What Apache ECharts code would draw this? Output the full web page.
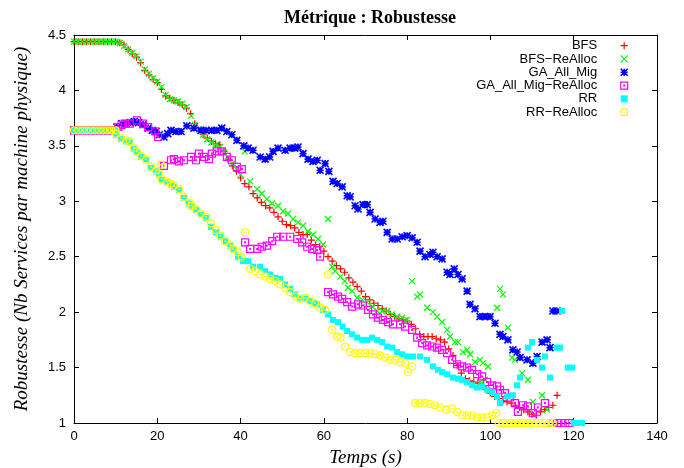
<!DOCTYPE html>
<html>
<head>
<meta charset="utf-8">
<script src="https://cdn.jsdelivr.net/npm/echarts@6/dist/echarts.min.js"></script>
<style>
html, body { margin: 0; padding: 0; background: #fff; }
#chart { width: 684px; height: 468px; }
</style>
</head>
<body>
<div id="chart"></div>
<script>
// points [temps (s), robustesse]
var bfsData = [[0,4.44],[1,4.44],[2,4.44],[3,4.44],[4,4.44],[5,4.44],[6,4.44],[7,4.44],[8,4.44],[9,4.44],[10,4.44],
	[11,4.43],[12,4.41],[13,4.37],[14,4.33],[15,4.30],[16,4.25],[17,4.18],[18,4.14],[19,4.10],[20,4.07],[21,4.01],[22,3.95],[23,3.93],[24,3.91],[25,3.89],[26,3.87],[27,3.84],[28,3.79],[29,3.70],[30,3.64],
	[31,3.60],[32,3.57],[33,3.54],[34,3.52],[35,3.51],[36,3.45],[37,3.38],[38,3.32],[39,3.27],[40,3.21],[41,3.16],[42,3.13],[43,3.07],[44,3.03],[45,2.99],[46,2.96],[47,2.94],[48,2.90],[49,2.86],[50,2.82],
	[51,2.79],[52,2.78],[53,2.76],[54,2.72],[55,2.70],[56,2.70],[57,2.65],[58,2.61],[59,2.59],[60,2.55],[61,2.50],[62,2.46],[63,2.42],[64,2.39],[65,2.36],[66,2.31],[67,2.27],[68,2.23],[69,2.19],[70,2.14],
	[71,2.11],[72,2.08],[73,2.06],[74,2.03],[75,2.01],[76,1.98],[77,1.96],[78,1.94],[79,1.93],[80,1.92],[81,1.89],[82,1.85],[83,1.80],[84,1.78],[85,1.78],[86,1.78],[87,1.76],[88,1.75],[89,1.73],[90,1.67],
	[91,1.61],[92,1.52],[93,1.45],[94,1.40],[95,1.38],[96,1.37],[97,1.36],[98,1.33],[99,1.30],[100,1.27],[101,1.24],[102,1.22],[103,1.20],[104,1.19],[105,1.18],[106,1.16],[107,1.14],[108,1.12],[109,1.10],[110,1.08],
	[111,1.07],[112,1.10],[113,1.12],[114,1.14],[115,1.16],[116,1.25]];

var bfsReData = [[0,4.44],[1,4.44],[2,4.44],[3,4.44],[4,4.44],[5,4.44],[6,4.44],[7,4.44],[8,4.44],[9,4.44],[10,4.44],
	[11,4.43],[12,4.40],[13,4.37],[14,4.34],[15,4.31],[16,4.26],[17,4.19],[18,4.15],[19,4.11],[20,4.08],[21,4.03],[22,3.96],[23,3.92],[24,3.91],[25,3.90],[26,3.88],[27,3.85],[28.1,3.77],[29,3.69],[30,3.65],
	[31,3.60],[32,3.56],[33,3.53],[34,3.51],[35,3.49],[36,3.44],[37,3.40],[38,3.34],[39,3.29],[40,3.24],[41,3.45],[42.3,3.18],[44,3.11],[45.1,3.07],[46.3,3.02],[47.6,2.98],[49,2.96],[50.2,2.91],
	[51.4,2.89],[52.6,2.84],[53.8,2.81],[55,2.78],[56.2,2.73],[57.4,2.70],[58.6,2.66],[59.8,2.61],[61,2.84],[62,2.41],[62.7,2.37],[64,2.32],[65,2.28],[65.8,2.22],[66.8,2.19],[68,2.13],[69.2,2.11],[70.4,2.09],
	[71.6,2.05],[72.8,2.01],[74,2.01],[75.2,2.01],[76.4,1.98],[77.6,1.96],[78.8,1.95],[80,1.93],[81.2,2.28],[82.4,2.14],[83.1,2.16],[84.8,2.04],[86.2,2.00],[87.2,1.96],[88.4,1.91],[89.6,1.84],[90.3,1.78],
	[91.5,1.73],[92.2,1.73],[93.4,1.64],[94.4,1.66],[95.1,1.62],[96.3,1.55],[97.5,1.57],[98.2,1.54],[99.4,1.51],[98.7,1.39],[97.5,1.37],[101.6,2.04],[102.3,2.21],[103,2.16],[104.2,1.86],[105.2,1.59],
	[105.9,1.57],[107.6,1.45],[109,1.39],[110.2,1.19],[112.4,1.25],[113.6,1.12]];

var gaData = [[0,3.64],[1,3.64],[2,3.64],[3,3.64],[4,3.64],[5,3.64],[6,3.64],[7,3.64],[8,3.64],[9,3.64],[10,3.64],
	[10.3,3.67],[11.5,3.70],[12.5,3.70],[13.5,3.71],[14.5,3.72],[15.5,3.71],[16.6,3.69],[17.8,3.66],[18.8,3.64],[19.7,3.63],[20.5,3.60],[21.6,3.58],[22.5,3.61],[23.3,3.64],[24.5,3.63],[25.7,3.63],
	[27.1,3.68],[28.8,3.66],[30.5,3.64],[31.7,3.64],[33.1,3.64],[34.3,3.64],[35.5,3.66],[36.7,3.63],[37.9,3.60],[39.1,3.55],[40.8,3.50],[41.8,3.48],[43,3.46],[44.7,3.40],[45.9,3.38],[47,3.40],
	[47.8,3.45],[49,3.48],[50.7,3.46],[51.9,3.48],[53,3.48],[53.8,3.49],[55,3.43],[56.2,3.38],[57.4,3.36],[58.4,3.37],[59.1,3.28],[60.3,3.34],[61.2,3.27],[62.2,3.18],[63.2,3.16],[64.4,3.13],
	[65.6,3.05],[66.3,3.04],[67.5,2.96],[68.2,2.93],[69.4,2.97],[70.4,2.97],[71.1,2.90],[72.3,2.84],[73.5,2.81],[74.2,2.82],[75.2,2.72],[76.4,2.66],[77.6,2.66],[78.8,2.68],[80,2.69],[81.2,2.67],
	[82.4,2.63],[83.1,2.55],[84.3,2.50],[85.5,2.52],[86.2,2.54],[87.2,2.50],[88.4,2.48],[89.6,2.36],[90.3,2.34],[91.3,2.39],[92.2,2.34],[93.2,2.30],[94.4,2.19],[95.1,2.07],[96.3,2.03],[97.5,1.96],
	[98.7,1.96],[99.9,1.96],[101.1,1.90],[102.3,1.80],[103,1.78],[104.2,1.75],[105.4,1.66],[106.4,1.64],[107.1,1.59],[108.8,1.57],[110.2,1.54],[111.2,1.60],[112.4,1.73],[113.6,1.75],[114.3,1.68],
	[115,2.01],[116,2.01]];

var gaReData = [[0,3.64],[1,3.64],[2,3.64],[3,3.64],[4,3.64],[5,3.64],[6,3.64],[7,3.64],[8,3.64],[9,3.64],[10,3.64],
	[10.6,3.67],[11.4,3.69],[12.2,3.70],[13.4,3.70],[15.1,3.73],[16.6,3.70],[17.8,3.67],[19.5,3.63],[20.2,3.58],[21.6,3.32],[23.3,3.37],[24,3.38],[25.2,3.36],[26.4,3.37],[28.1,3.40],[29.3,3.37],
	[30,3.43],[31.2,3.40],[32.4,3.38],[33.1,3.43],[34.3,3.45],[35.5,3.45],[36.7,3.40],[37.9,3.37],[39.1,3.31],[40.3,3.29],[41.1,2.63],[42.3,2.57],[44,2.57],[45.1,2.59],[46.3,2.60],[47.6,2.64],
	[48.8,2.68],[50.2,2.68],[51.9,2.68],[53.6,2.66],[54.8,2.63],[56,2.59],[57.2,2.57],[58.4,2.56],[59.1,2.50],[61,2.18],[62.2,2.16],[63.4,2.14],[64.4,2.12],[65.6,2.09],[66.8,2.05],[68.2,2.07],
	[69.4,2.06],[70.6,2.02],[71.8,1.98],[73,1.95],[74.2,1.93],[75.4,1.91],[76.6,1.89],[78.3,1.89],[79.5,1.87],[81.2,1.84],[82.4,1.77],[83.6,1.72],[84.8,1.70],[86,1.69],[87.2,1.68],[88.4,1.66],
	[89.6,1.63],[90.8,1.57],[92,1.53],[93.2,1.51],[94.4,1.50],[95.6,1.48],[96.8,1.44],[98,1.42],[99.2,1.37],[100.4,1.34],[101.6,1.33],[102.3,1.30],[103.5,1.27],[104.7,1.23],[105.9,1.18],[106.6,1.10],
	[107.8,1.16],[109,1.15],[110.2,1.09],[111.4,1.14],[113.1,1.18],[115,1],[116,1],[117,1],[118,1],[119,1]];

var rrData = [[0,3.64],[1,3.64],[2,3.64],[3,3.64],[4,3.64],[5,3.64],[6,3.64],[7,3.64],[8,3.64],[9,3.64],[10,3.64],
	[10.1,3.60],[11.3,3.56],[12.5,3.54],[13.4,3.53],[14.4,3.47],[15.1,3.44],[16.1,3.40],[17.3,3.37],[18.5,3.30],[19.7,3.27],[20.4,3.24],[21.1,3.19],[22.3,3.17],[23.3,3.15],[24,3.13],[25.2,3.10],
	[26.4,3.03],[27.6,2.98],[28.3,2.95],[29.3,2.92],[30.5,2.88],[31.7,2.85],[32.9,2.77],[34.1,2.72],[35.3,2.68],[36.5,2.64],[37.5,2.60],[38.4,2.56],[39.4,2.50],[40.6,2.46],[41.8,2.46],[43,2.41],
	[44.7,2.41],[45.9,2.37],[47.1,2.34],[48.3,2.31],[49.5,2.30],[50.7,2.25],[51.9,2.21],[53.1,2.16],[54.3,2.13],[55.5,2.12],[56.7,2.10],[57.6,2.08],[58.4,2.07],[59.8,2.02],[61,1.98],[62.2,1.93],
	[63.4,1.91],[64.5,1.87],[65.6,1.83],[66.8,1.80],[68,1.77],[69.2,1.75],[70.4,1.75],[71.6,1.77],[72.8,1.75],[74,1.73],[75.2,1.69],[76.4,1.68],[77.6,1.64],[78.8,1.62],[80,1.60],[81.4,1.60],
	[83.1,1.60],[84.8,1.57],[86.2,1.51],[87.4,1.48],[88.4,1.46],[89.6,1.44],[91,1.41],[92.2,1.40],[93.2,1.39],[94.4,1.37],[95.6,1.34],[96.8,1.32],[98,1.33],[99.2,1.30],[100.4,1.28],[101.6,1.24],
	[102.3,1.18],[104,1.24],[105.4,1.25],[106.4,1.34],[107.1,1.41],[109,1.68],[110,1.73],[111.2,1.57],[112.4,1.50],[113.1,1.60],[114.3,1.41],[116,1.68],[116.7,1.68],[117.2,2.01],[118.6,1.50],
	[119.6,1.50],[120,1],[121,1],[122,1]];

var rrReData = [[0,3.64],[1,3.64],[2,3.64],[3,3.64],[4,3.64],[5,3.64],[6,3.64],[7,3.64],[8,3.64],[9,3.64],[10,3.64],
	[10.1,3.61],[11.3,3.57],[12.5,3.55],[13.4,3.54],[14.4,3.48],[15.1,3.45],[16.1,3.41],[17.3,3.38],[18.5,3.31],[19.7,3.28],[20.4,3.25],[20.9,3.33],[21.1,3.20],[22.3,3.18],[23.3,3.16],[24,3.14],
	[25.2,3.11],[26.4,3.04],[27.6,2.99],[28.3,2.96],[29.3,2.93],[30.5,2.89],[31.7,2.86],[32.9,2.80],[34.1,2.74],[35.1,2.69],[36.3,2.64],[37.5,2.61],[38.2,2.57],[39.4,2.54],[40.3,2.50],[41.1,2.72],
	[42.3,2.39],[43.5,2.37],[44.7,2.34],[45.9,2.32],[47.1,2.30],[48.3,2.28],[49.5,2.25],[50.7,2.22],[51.9,2.18],[53.1,2.14],[54.3,2.12],[55.5,2.13],[56.7,2.10],[57.9,2.08],[59.1,2.04],[60.3,2.02],
	[61,2.34],[62,1.84],[63.2,1.78],[64,1.77],[65.1,1.69],[66.3,1.64],[67.5,1.63],[68.7,1.63],[69.9,1.63],[71.1,1.63],[72.3,1.62],[73.5,1.61],[74.7,1.59],[75.9,1.57],[77.1,1.57],[78.3,1.55],
	[79.5,1.54],[80.2,1.46],[81.2,1.51],[81.9,1.18],[83.1,1.18],[84.3,1.18],[85.5,1.17],[86.7,1.16],[87.9,1.14],[89.4,1.12],[90.8,1.13],[92,1.10],[93.2,1.07],[94.4,1.07],[95.6,1.07],[96.8,1.05],
	[98,1.05],[99.2,1.05],[100.4,1.07],[101.4,1.09],[102,1],[103,1],[104,1],[105,1],[106,1],[107,1],[108,1],[109,1],[110,1],[111,1],[112,1],[113,1],[114,1],[115,1]];

var legendNames = ['BFS', 'BFS\u2212ReAlloc', 'GA_All_Mig', 'GA_All_Mig\u2212ReAlloc', 'RR', 'RR\u2212ReAlloc'];
var xTicks = { min: 0, max: 140, step: 20 };
var yTicks = { min: 1, max: 4.5, step: 0.5 };

// symboles façon gnuplot
var plusPath = 'path://M5,0L5,10M0,5L10,5';
var crossPath = 'path://M0,0L10,10M10,0L0,10';
var starPath = 'path://M5,0L5,10M0,5L10,5M0,0L10,10M10,0L0,10';
var boxPath = 'path://M0,0L10,0L10,10L0,10ZM4.4,4.4L5.6,4.4L5.6,5.6L4.4,5.6Z';
var fullBoxPath = 'path://M0,0L10,0L10,10L0,10Z';
var circlePath = 'path://M10,5A5,5,0,1,1,0,5A5,5,0,1,1,10,5ZM5.6,5A0.6,0.6,0,1,1,4.4,5A0.6,0.6,0,1,1,5.6,5Z';

var styles = [
	{ data: bfsData,   symbol: plusPath,    size: 7, fill: 'rgba(0,0,0,0)', stroke: '#ff0000', width: 1.2 },
	{ data: bfsReData, symbol: crossPath,   size: 6, fill: 'rgba(0,0,0,0)', stroke: '#00ff00', width: 1.2 },
	{ data: gaData,    symbol: starPath,    size: 7, fill: 'rgba(0,0,0,0)', stroke: '#0000ff', width: 1.6 },
	{ data: gaReData,  symbol: boxPath,     size: 7, fill: 'rgba(0,0,0,0)', stroke: '#ff00ff', width: 1.2 },
	{ data: rrData,    symbol: fullBoxPath, size: 6, fill: '#00ffff',       stroke: '#00ffff', width: 0 },
	{ data: rrReData,  symbol: circlePath,  size: 7, fill: 'rgba(0,0,0,0)', stroke: '#ffff00', width: 1.2 }
];

var chart = echarts.init(document.getElementById('chart'), null, { renderer: 'canvas' });

var series = [];
var legendData = [];
for (var i = 0; i < styles.length; i++) {
	var s = styles[i];
	series.push({
		name: legendNames[i],
		type: 'scatter',
		data: s.data,
		symbol: s.symbol,
		symbolSize: s.size,
		itemStyle: { color: s.fill, borderColor: s.stroke, borderWidth: s.width, opacity: 1 },
		emphasis: { disabled: true },
		xAxisIndex: 0,
		yAxisIndex: 0
	});
	legendData.push({
		name: legendNames[i],
		icon: s.symbol,
		itemStyle: { color: s.fill, borderColor: s.stroke, borderWidth: s.width }
	});
}

var axisLineStyle = { color: '#000', width: 1 };
var labelStyle = { color: '#000', fontFamily: 'Liberation Sans', fontSize: 13 };
var nameStyle = { color: '#000', fontFamily: 'Liberation Serif', fontStyle: 'italic', fontSize: 19 };

var option = {
	animation: false,
	backgroundColor: '#fff',
	title: {
		text: 'Métrique : Robustesse',
		left: 365,
		top: 4,
		textAlign: 'center',
		textStyle: { fontFamily: 'Liberation Serif', fontWeight: 'bold', fontSize: 18, color: '#000' }
	},
	legend: {
		orient: 'vertical',
		align: 'right',
		right: 55.5,
		top: 39,
		padding: 0,
		itemGap: 0,
		itemWidth: 44,
		itemHeight: 7,
		selectedMode: false,
		textStyle: { fontFamily: 'Liberation Sans', fontSize: 13, color: '#000', lineHeight: 13.3 },
		data: legendData
	},
	grid: { left: 74, right: 27, top: 35, bottom: 45, containLabel: false, outerBoundsMode: 'none' },
	xAxis: [{
		type: 'value', position: 'bottom',
		min: xTicks.min, max: xTicks.max, interval: xTicks.step,
		name: 'Temps (s)', nameLocation: 'middle', nameGap: 25, nameTextStyle: nameStyle,
		axisLine: { onZero: false, lineStyle: axisLineStyle },
		axisTick: { inside: true, length: 5, lineStyle: axisLineStyle },
		axisLabel: Object.assign({ margin: 7 }, labelStyle),
		splitLine: { show: false }
	}, {
		type: 'value', position: 'top',
		min: xTicks.min, max: xTicks.max, interval: xTicks.step,
		axisLine: { onZero: false, lineStyle: axisLineStyle },
		axisTick: { inside: true, length: 5, lineStyle: axisLineStyle },
		axisLabel: { show: false },
		splitLine: { show: false }
	}],
	yAxis: [{
		type: 'value', position: 'left',
		min: yTicks.min, max: yTicks.max, interval: yTicks.step,
		name: 'Robustesse (Nb Services par machine physique)', nameLocation: 'middle', nameGap: 43, nameTextStyle: nameStyle,
		axisLine: { onZero: false, lineStyle: axisLineStyle },
		axisTick: { inside: true, length: 5, lineStyle: axisLineStyle },
		axisLabel: Object.assign({ margin: 8 }, labelStyle),
		splitLine: { show: false }
	}, {
		type: 'value', position: 'right',
		min: yTicks.min, max: yTicks.max, interval: yTicks.step,
		axisLine: { onZero: false, lineStyle: axisLineStyle },
		axisTick: { inside: true, length: 5, lineStyle: axisLineStyle },
		axisLabel: { show: false },
		splitLine: { show: false }
	}],
	series: series
};

chart.setOption(option);

window.addEventListener('resize', function() {
	chart.resize();
});
</script>
</body>
</html>
